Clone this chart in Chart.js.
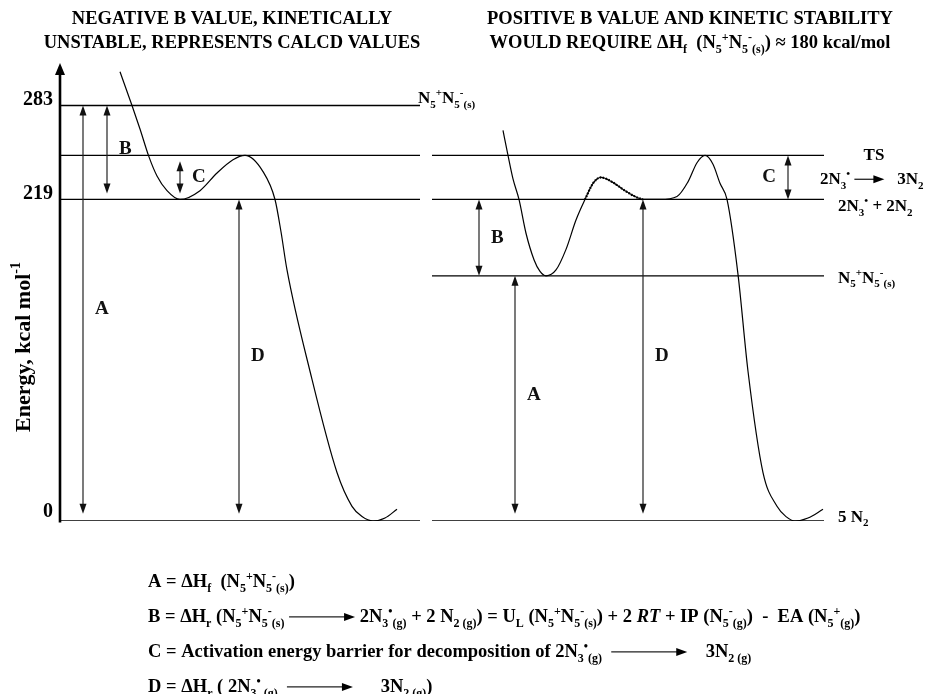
<!DOCTYPE html>
<html>
<head>
<meta charset="utf-8">
<script src="https://cdn.jsdelivr.net/npm/chart.js@4/dist/chart.umd.min.js"></script>
<style>
  body { margin: 0; background: #fff; }
</style>
</head>
<body>
<canvas id="diagram" width="933" height="694"></canvas>
<script>
// energy levels (kcal/mol) drawn in each panel
const levelsLeft = [283, 249, 219, 0];
const levelsRight = [249, 219, 167, 0];
const tickValues = [0, 219, 283];
const tickLabels = ['0', '219', '283'];
const axisTop = 312;

// reaction coordinate extent of the two panels
const panelLeft = [0, 360];
const panelRight = [372, 764];

// left panel energy profile
const curveLeftX = [60, 72, 80, 89, 97, 107, 120, 140, 157, 173, 185, 203, 215, 221, 227, 250, 277, 292, 302, 313, 325, 337];
const curveLeftY = [306, 283, 267, 248, 235, 225, 219, 225, 237, 246, 249, 238, 219, 197, 171, 102, 33, 10, 3, 0, 2, 8];

// right panel energy profile
const curveRightX = [443, 448, 453, 459, 466, 474, 480, 486, 496, 506, 516, 525, 533, 541, 552, 565, 575, 583, 600, 617, 628, 637, 645, 653, 660, 667, 678, 688, 703, 717, 726, 735, 748, 763];
const curveRightY = [266, 249, 233, 219, 196, 178, 170, 167, 171, 185, 205, 219, 230, 234, 231, 225, 221, 219, 219, 221, 231, 244, 249, 243, 230, 219, 168, 102, 33, 10, 3, 0, 2, 8];

// dotted part of the right profile (2N3 + 2N2 step)
const dottedX = [525, 533, 541, 552, 565, 575, 583];
const dottedY = [219, 230, 234, 231, 225, 221, 219];

// vertical double arrows
const arrowX = [23, 47, 120, 179, 419, 455, 583, 728];
const arrowFrom = [5, 223, 223, 5, 167, 5, 5, 219];
const arrowTo = [283, 283, 245, 219, 219, 167, 219, 249];
const arrowLabels = ['A', 'B', 'C', 'D', 'B', 'A', 'D', 'C'];
const arrowSide = ['r', 'r', 'r', 'r', 'r', 'r', 'r', 'l'];

const FONT = '"Liberation Serif", "Times New Roman", serif';

const pts = (xs, ys) => xs.map((x, i) => ({ x: x, y: ys[i] }));

const levelLine = (panel, v) => ({
    data: [{ x: panel[0], y: v }, { x: panel[1], y: v }],
    borderColor: '#000',
    borderWidth: 1.3,
    pointRadius: 0,
    tension: 0
});

const datasets = [];
levelsLeft.forEach(v => datasets.push(levelLine(panelLeft, v)));
levelsRight.forEach(v => datasets.push(levelLine(panelRight, v)));
datasets.push({
    data: pts(curveLeftX, curveLeftY),
    borderColor: '#000', borderWidth: 1.2, pointRadius: 0,
    cubicInterpolationMode: 'monotone'
});
datasets.push({
    data: pts(curveRightX, curveRightY),
    borderColor: '#000', borderWidth: 1.2, pointRadius: 0,
    cubicInterpolationMode: 'monotone'
});
datasets.push({
    data: pts(dottedX, dottedY),
    borderColor: '#000', borderWidth: 2.2, borderDash: [1.5, 1.5], pointRadius: 0,
    cubicInterpolationMode: 'monotone'
});

function head(ctx, x, tipY, dir, hw, len) {
    // dir -1 points up, 1 points down
    ctx.beginPath();
    ctx.moveTo(x, tipY);
    ctx.lineTo(x - hw, tipY - dir * len);
    ctx.lineTo(x + hw, tipY - dir * len);
    ctx.closePath();
    ctx.fill();
}

function longArrow(ctx, x, y, len) {
    ctx.save();
    ctx.lineWidth = 1.3;
    ctx.beginPath();
    ctx.moveTo(x, y);
    ctx.lineTo(x + len - 8, y);
    ctx.stroke();
    ctx.beginPath();
    ctx.moveTo(x + len, y);
    ctx.lineTo(x + len - 11, y - 4);
    ctx.lineTo(x + len - 11, y + 4);
    ctx.closePath();
    ctx.fill();
    ctx.restore();
}

// parts: [text, mode]  n normal, b subscript, p superscript, i italic, a arrow (length)
function rich(ctx, x, y, parts, size, align) {
    const sm = Math.round(size * 0.64);
    const fontFor = m => (m === 'i' ? 'italic bold ' : 'bold ') + (m === 'b' || m === 'p' ? sm : size) + 'px ' + FONT;
    let w = 0;
    parts.forEach(([t, m]) => {
        if (m === 'a') w += t;
        else { ctx.font = fontFor(m); w += ctx.measureText(t).width; }
    });
    let cx = align === 'center' ? x - w / 2 : x;
    const base = y + size * 0.35;
    ctx.textAlign = 'left';
    ctx.textBaseline = 'alphabetic';
    parts.forEach(([t, m]) => {
        if (m === 'a') { longArrow(ctx, cx, base - size * 0.3, t); cx += t; return; }
        ctx.font = fontFor(m);
        const dy = m === 'b' ? size * 0.25 : m === 'p' ? -size * 0.42 : 0;
        ctx.fillText(t, cx, base + dy);
        cx += ctx.measureText(t).width;
    });
    return w;
}

const salt = [['N', 'n'], ['5', 'b'], ['+', 'p'], ['N', 'n'], ['5', 'b'], ['-', 'p'], ['(s)', 'b']];

const titleLeft = [
    [['NEGATIVE B VALUE, KINETICALLY', 'n']],
    [['UNSTABLE, REPRESENTS CALCD VALUES', 'n']]
];
const titleRight = [
    [['POSITIVE B VALUE AND KINETIC STABILITY', 'n']],
    [['WOULD REQUIRE \u0394H', 'n'], ['f', 'b'], ['  (', 'n'], ...salt, [') \u2248 180 kcal/mol', 'n']]
];

const legendLines = [
    [['A = \u0394H', 'n'], ['f', 'b'], ['  (', 'n'], ...salt, [')', 'n']],
    [['B = \u0394H', 'n'], ['r', 'b'], [' (', 'n'], ...salt, [' ', 'n'], [66, 'a'], [' 2N', 'n'], ['3', 'b'], ['\u2022', 'p'], ['(g)', 'b'],
     [' + 2 N', 'n'], ['2 (g)', 'b'], [') = U', 'n'], ['L', 'b'], [' (', 'n'], ...salt, [') + 2 ', 'n'], ['RT', 'i'],
     [' + IP (N', 'n'], ['5', 'b'], ['-', 'p'], ['(g)', 'b'], [')  -  EA (N', 'n'], ['5', 'b'], ['+', 'p'], ['(g)', 'b'], [')', 'n']],
    [['C = Activation energy barrier for decomposition of 2N', 'n'], ['3', 'b'], ['\u2022', 'p'], ['(g)', 'b'], ['  ', 'n'], [76, 'a'],
     ['    3N', 'n'], ['2 (g)', 'b']],
    [['D = \u0394H', 'n'], ['r', 'b'], [' ( 2N', 'n'], ['3', 'b'], ['\u2022', 'p'], [' (g)', 'b'], ['  ', 'n'], [66, 'a'],
     ['      3N', 'n'], ['2 (g)', 'b'], [')', 'n']]
];

const decorations = {
    id: 'decorations',
    afterDatasetsDraw(chart) {
        const { ctx, scales: { x, y } } = chart;
        ctx.save();
        ctx.fillStyle = '#000';
        ctx.strokeStyle = '#000';

        // energy axis
        const ax = x.getPixelForValue(0);
        ctx.lineWidth = 2.6;
        ctx.beginPath();
        ctx.moveTo(ax, y.getPixelForValue(0) + 1.5);
        ctx.lineTo(ax, y.getPixelForValue(axisTop) + 8);
        ctx.stroke();
        head(ctx, ax, y.getPixelForValue(axisTop), -1, 5, 12);

        tickValues.forEach((v, i) => {
            ctx.font = 'bold 20px ' + FONT;
            ctx.textAlign = 'right';
            ctx.textBaseline = 'middle';
            ctx.fillText(tickLabels[i], ax - 7, y.getPixelForValue(v) - (v === 0 ? 9 : 6));
        });

        ctx.save();
        ctx.translate(22, 347);
        ctx.rotate(-Math.PI / 2);
        rich(ctx, 0, 0, [['Energy, kcal mol', 'n'], ['-1', 'p']], 22, 'center');
        ctx.restore();

        // double arrows
        ctx.lineWidth = 1.2;
        ctx.strokeStyle = '#222';
        ctx.fillStyle = '#111';
        arrowX.forEach((av, i) => {
            const px = x.getPixelForValue(av);
            const y0 = y.getPixelForValue(arrowFrom[i]);
            const y1 = y.getPixelForValue(arrowTo[i]);
            ctx.beginPath();
            ctx.moveTo(px, y0 - 6);
            ctx.lineTo(px, y1 + 6);
            ctx.stroke();
            head(ctx, px, y0, 1, 3.5, 10);
            head(ctx, px, y1, -1, 3.5, 10);
            ctx.font = 'bold 19px ' + FONT;
            ctx.textBaseline = 'middle';
            ctx.textAlign = arrowSide[i] === 'r' ? 'left' : 'right';
            ctx.fillText(arrowLabels[i], px + (arrowSide[i] === 'r' ? 12 : -12), (y0 + y1) / 2);
        });
        ctx.fillStyle = '#000';

        // level labels
        const lx = x.getPixelForValue(panelLeft[1]);
        const rx = x.getPixelForValue(panelRight[1]);
        rich(ctx, lx - 2, y.getPixelForValue(283) - 8, salt, 17);
        rich(ctx, rx + 14, y.getPixelForValue(167) + 1, salt, 17);
        rich(ctx, rx + 14, y.getPixelForValue(219) + 6, [['2N', 'n'], ['3', 'b'], ['\u2022', 'p'], [' + 2N', 'n'], ['2', 'b']], 17);
        rich(ctx, rx + 14, y.getPixelForValue(0) - 5, [['5 N', 'n'], ['2', 'b']], 17);
        rich(ctx, rx + 50, y.getPixelForValue(249) - 1, [['TS', 'n']], 17, 'center');
        rich(ctx, rx - 4, y.getPixelForValue(249) + 23, [['2N', 'n'], ['3', 'b'], ['\u2022', 'p'], [' ', 'n'], [30, 'a'], ['   3N', 'n'], ['2', 'b']], 17);

        // titles
        titleLeft.forEach((line, i) => rich(ctx, 232, 18 + i * 24, line, 18.5, 'center'));
        titleRight.forEach((line, i) => rich(ctx, 690, 18 + i * 24, line, 18.5, 'center'));

        // definitions under the diagram
        legendLines.forEach((line, i) => rich(ctx, 148, 581 + i * 35, line, 18.5));

        ctx.restore();
    }
};

new Chart(document.getElementById('diagram'), {
    type: 'line',
    data: { datasets: datasets },
    options: {
        responsive: false,
        animation: false,
        layout: { padding: { left: 60, right: 3, top: 60, bottom: 173 } },
        plugins: { legend: { display: false }, tooltip: { enabled: false } },
        scales: {
            x: { type: 'linear', min: 0, max: 870, display: false },
            y: { type: 'linear', min: 0, max: 314, display: false }
        },
        elements: { line: { fill: false } }
    },
    plugins: [decorations]
});
</script>
</body>
</html>
